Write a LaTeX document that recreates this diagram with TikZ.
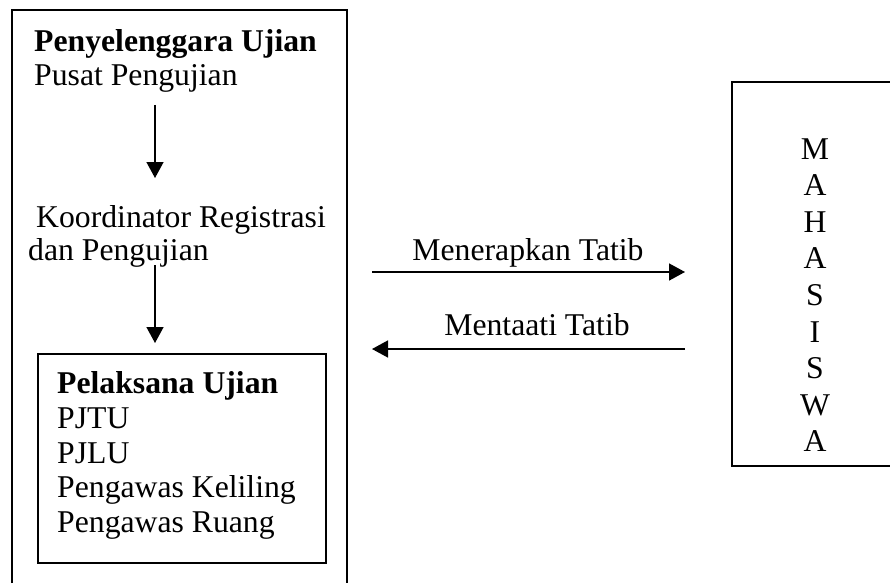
\documentclass[tikz,border=0pt]{standalone}
\usepackage{fontspec}
\setmainfont{Liberation Serif}
\usetikzlibrary{arrows.meta}
\begin{document}
\begin{tikzpicture}[x=1pt,y=1pt,
  fnt/.style={font=\fontsize{31.7}{35}\selectfont},
  txt/.style={fnt,anchor=base west,inner sep=0pt},
  box/.style={draw,line width=1.5pt},
  arr/.style={line width=1.5pt,-{Triangle[width=17pt,length=16pt]}},
  letter/.style={fnt,anchor=base,inner sep=0pt}]
\useasboundingbox (0,0) rectangle (890,-583);
% outer left frame (open at bottom)
\draw[box] (12,-583) |- (347,-10) -- (347,-583);
% right frame (open at right)
\draw[box] (890,-82) -| (732,-466) -- (890,-466);
% inner box
\node[box,minimum width=288pt,minimum height=209pt,anchor=north west,inner sep=0pt] (inner) at (37,-353) {};
% texts
\node[txt] (peny) at (34,-52) {\textbf{Penyelenggara Ujian}};
\node[txt] (pusat) at (34,-85) {Pusat Pengujian};
\node[txt] (koor) at (36,-227) {Koordinator Registrasi};
\node[txt] (dan) at (28,-260) {dan Pengujian};
\node[txt] (pel) at (57,-393) {\textbf{Pelaksana Ujian}};
\node[txt] (pjtu) at (57,-428) {PJTU};
\node[txt] (pjlu) at (57,-463) {PJLU};
\node[txt] (pk) at (57,-497.5) {Pengawas Keliling};
\node[txt] (pr) at (57,-532) {Pengawas Ruang};
% arrows
\coordinate (a1s) at (155,-105);
\coordinate (a1e) at (155,-178);
\coordinate (a2s) at (155,-265);
\coordinate (a2e) at (155,-343);
\draw[arr] (a1s) -- (a1e);
\draw[arr] (a2s) -- (a2e);
\coordinate (h1s) at (372,-272);
\coordinate (h1e) at (685,-272);
\coordinate (h2s) at (685,-349);
\coordinate (h2e) at (372,-349);
\draw[arr] (h1s) -- (h1e);
\draw[arr] (h2s) -- (h2e);
\node[letter] (lab1) at (528,-260) {Menerapkan Tatib};
\node[letter] (lab2) at (537,-335) {Mentaati Tatib};
% MAHASISWA
\foreach \l [count=\i] in {M,A,H,A,S,I,S,W,A}{
  \node[letter] (m\i) at (815,{-159-36.6*(\i-1)}) {\l};
}
\end{tikzpicture}
\end{document}
